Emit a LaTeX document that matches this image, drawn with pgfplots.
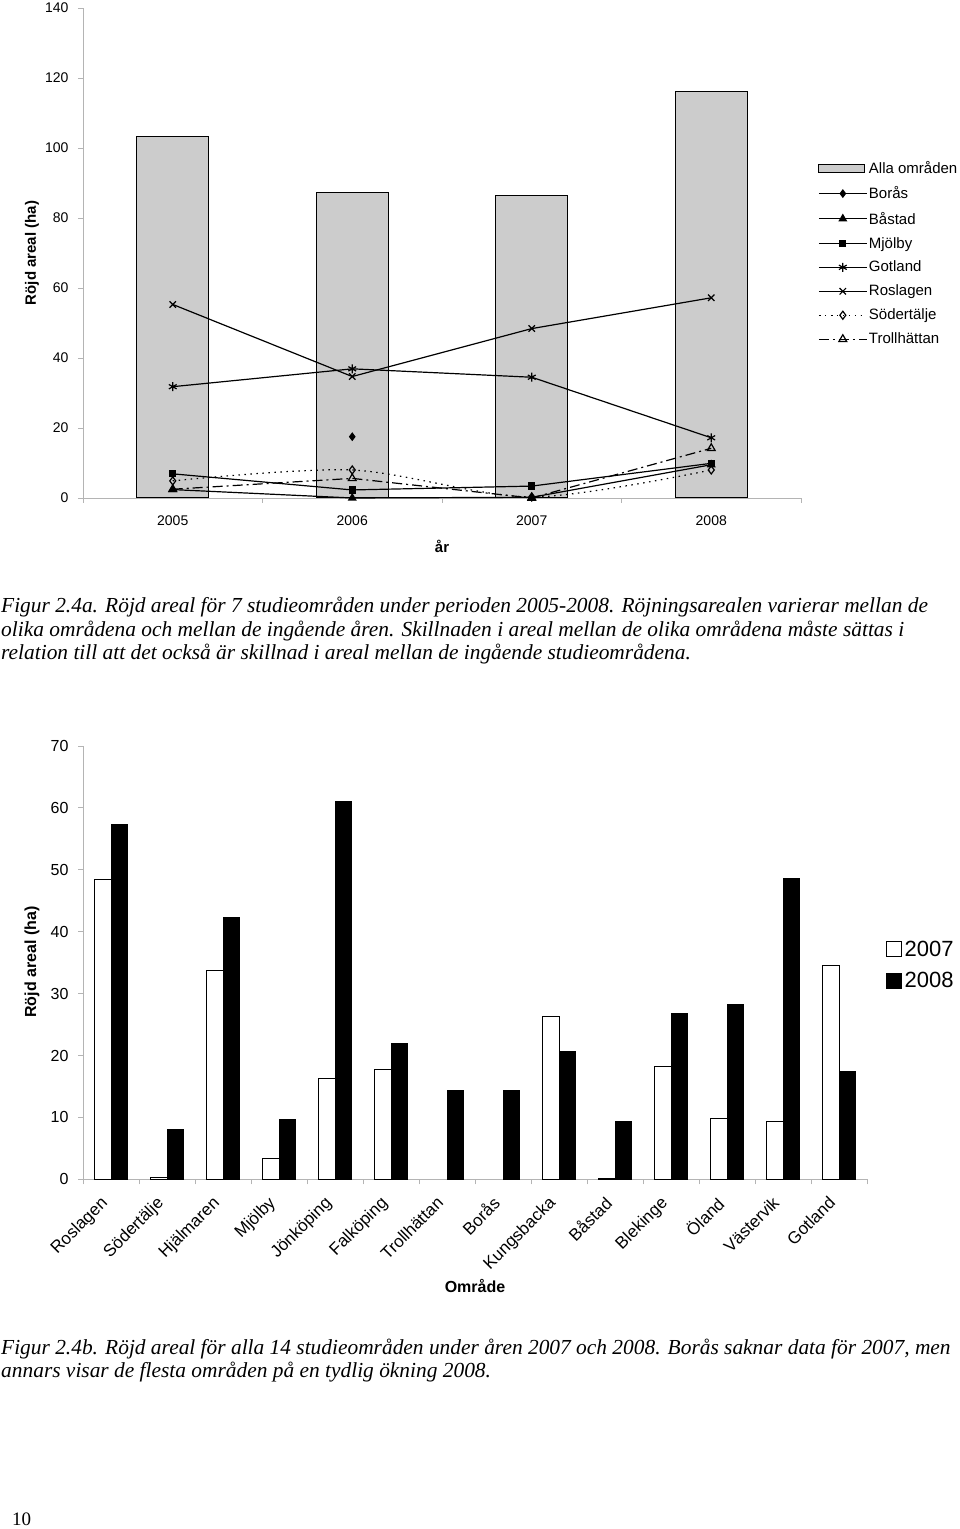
\documentclass[border=0pt]{standalone}
\usepackage{fontspec}
\setmainfont{Liberation Sans}
\newfontfamily\capfont{Liberation Serif}
\usepackage{pgfplots}
\pgfplotsset{compat=1.18}
\definecolor{axgray}{HTML}{B4B4B4}
\definecolor{barfill}{HTML}{CCCCCC}
\begin{document}
\begin{tikzpicture}[x=1pt,y=1pt]
\useasboundingbox (0,0) rectangle (960,1529);
% ---------- top chart ----------
\begin{axis}[
  at={(83pt,1031pt)}, anchor=south west,
  scale only axis, width=718pt, height=490pt,
  xmin=-0.5, xmax=3.5, ymin=0, ymax=140,
  axis x line*=bottom, axis y line*=left,
  axis line style={-, draw=axgray, line width=0.9pt},
  ytick={0,20,...,140},
  xtick={0,1,2,3}, xticklabels={2005,2006,2007,2008},
  minor xtick={-0.5,0.5,1.5,2.5,3.5},
  major x tick style={draw=none},
  tick align=outside, major tick length=5pt, minor tick length=5pt,
  tick style={draw=axgray, line width=0.9pt},
  tick label style={font=\fontsize{14}{16}\selectfont},
  /pgf/number format/assume math mode=true,
  yticklabel style={xshift=-6pt},
  xticklabel style={yshift=-9pt},
  clip=false,
  legend cell align=left,
  legend style={at={(1.0237,0.690)}, anchor=north west, draw=none, fill=none,
    font=\fontsize{15}{17}\selectfont, row sep=8.6pt, inner sep=0pt,
    nodes={inner sep=1.5pt}},
  every axis plot/.append style={line width=1.2pt},
]
\addplot[ybar, bar width=72pt, fill=barfill, draw=black, line width=1pt,
  legend image code/.code={\draw[fill=barfill, draw=black, line width=0.8pt] (0pt,-4pt) rectangle (46pt,4pt);}]
  coordinates {(0,103.3) (1,87.4) (2,86.5) (3,116.0)};
\addlegendentry{Alla områden}
\pgfplotsset{legend image code/.code={\draw[mark repeat=2,mark phase=2,#1] plot coordinates {(0pt,0pt) (24pt,0pt) (48pt,0pt)};}}
\addplot[black, mark=diamond*, mark size=3.5pt] coordinates {(1,17.5)};
\addlegendentry{Borås}
\addplot[black, mark=triangle*, mark size=4pt] coordinates {(0,2.4) (1,0) (2,0.2) (3,9.5)};
\addlegendentry{Båstad}
\addplot[black, mark=square*, mark size=3pt] coordinates {(0,6.9) (1,2.3) (2,3.4) (3,9.9)};
\addlegendentry{Mjölby}
\addplot[black, mark=asterisk, mark size=4.5pt] coordinates {(0,31.8) (1,36.9) (2,34.5) (3,17.2)};
\addlegendentry{Gotland}
\addplot[black, mark=x, mark size=4.5pt] coordinates {(0,55.3) (1,34.7) (2,48.4) (3,57.2)};
\addlegendentry{Roslagen}
\addplot[black, smooth, dash pattern=on 1.5pt off 4.5pt, mark=diamond, mark size=4pt,
  mark options={solid, fill=white}] coordinates {(0,4.9) (1,8.0) (2,0.3) (3,8.0)};
\addlegendentry{Södertälje}
\addplot[black, dash pattern=on 10pt off 4pt on 2pt off 4pt, mark=triangle, mark size=4.5pt,
  mark options={solid, fill=white}] coordinates {(0,2.5) (1,5.6) (2,0) (3,14.2)};
\addlegendentry{Trollhättan}
\end{axis}
% ---------- bottom chart ----------
\begin{axis}[
  at={(83pt,349.7pt)}, anchor=south west,
  scale only axis, width=784pt, height=433.3pt,
  xmin=-0.5, xmax=13.5, ymin=0, ymax=70,
  axis x line*=bottom, axis y line*=left,
  axis line style={-, draw=axgray, line width=0.9pt},
  ytick={0,10,...,70},
  xtick={0,...,13},
  xticklabels={Roslagen,Södertälje,Hjälmaren,Mjölby,Jönköping,Falköping,Trollhättan,Borås,Kungsbacka,Båstad,Blekinge,Öland,Västervik,Gotland},
  minor xtick={-0.5,0.5,...,13.5},
  major x tick style={draw=none},
  tick align=outside, major tick length=5pt, minor tick length=5pt,
  tick style={draw=axgray, line width=0.9pt},
  yticklabel style={font=\fontsize{16}{18}\selectfont, xshift=-6pt},
  xticklabel style={font=\fontsize{17}{19}\selectfont, xshift=-11.5pt, yshift=-6pt, rotate=45, anchor=north east},
  /pgf/number format/assume math mode=true,
  clip=false,
  legend cell align=left,
  legend style={at={(1.0242,0.557)}, anchor=north west, draw=none, fill=none,
    font=\fontsize{22}{24}\selectfont, row sep=10pt, inner sep=0pt,
    nodes={inner sep=2.5pt}},
  legend image code/.code={\draw[#1] (0pt,-7.5pt) rectangle (15pt,7.5pt);},
]
\addplot[ybar, bar width=16.3pt, bar shift=-8.15pt, fill=white, draw=black, line width=0.9pt]
  coordinates {(0,48.4) (1,0.3) (2,33.8) (3,3.3) (4,16.3) (5,17.7) (8,26.3) (9,0.2) (10,18.3) (11,9.8) (12,9.4) (13,34.5)};
\addlegendentry{2007}
\addplot[ybar, bar width=16.3pt, bar shift=8.15pt, fill=black, draw=black, line width=0.9pt]
  coordinates {(0,57.3) (1,8.0) (2,42.3) (3,9.6) (4,61.1) (5,21.9) (6,14.4) (7,14.4) (8,20.6) (9,9.4) (10,26.8) (11,28.2) (12,48.6) (13,17.4)};
\addlegendentry{2008}
\end{axis}
% ---------- axis titles ----------
\node[rotate=90, font=\bfseries\fontsize{15}{17}\selectfont] at (32,1276) {Röjd areal (ha)};
\node[font=\bfseries\fontsize{15}{17}\selectfont] at (442,983) {år};
\node[rotate=90, font=\bfseries\fontsize{16}{18}\selectfont] at (32,567) {Röjd areal (ha)};
\node[font=\bfseries\fontsize{16}{18}\selectfont] at (475,243) {Område};
% ---------- captions ----------
\begin{scope}[every node/.style={anchor=base west, inner sep=0pt, font=\capfont\itshape\fontsize{21.4}{25}\selectfont}]
\node at (1,916) {Figur 2.4a. Röjd areal för 7 studieområden under perioden 2005-2008. Röjningsarealen varierar mellan de};
\node at (1,892.5) {olika områdena och mellan de ingående åren. Skillnaden i areal mellan de olika områdena måste sättas i};
\node at (1,869) {relation till att det också är skillnad i areal mellan de ingående studieområdena.};
\node at (1,174) {Figur 2.4b. Röjd areal för alla 14 studieområden under åren 2007 och 2008. Borås saknar data för 2007, men};
\node at (1,151) {annars visar de flesta områden på en tydlig ökning 2008.};
\end{scope}
\node[anchor=base west, inner sep=0pt, font=\capfont\fontsize{19}{22}\selectfont] at (12,4) {10};
\end{tikzpicture}
\end{document}
